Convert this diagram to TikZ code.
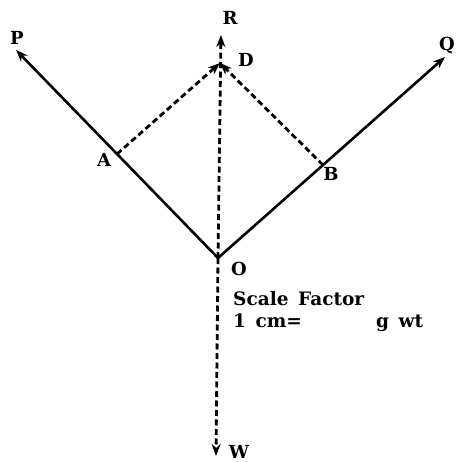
\documentclass[tikz,border=0pt]{standalone}
\usepackage{fontspec}
\setmainfont{DejaVu Serif}
\usetikzlibrary{arrows.meta,calc}
\begin{document}
\begin{tikzpicture}[
  x=1pt, y=-1pt,
  force/.style={line width=2.6pt, -{Stealth[length=12pt,width=9pt]}},
  result/.style={line width=2.8pt, dash pattern=on 6pt off 3.5pt, -{Stealth[length=12pt,width=9pt]}},
  lbl/.style={font=\fontsize{18}{21}\selectfont\bfseries, inner sep=0pt},
  note/.style={font=\fontsize{18.5}{22}\selectfont\bfseries, inner sep=0pt, anchor=base west}
]
\useasboundingbox (0,0) rectangle (462,462);
\coordinate (O) at (218,258);
\coordinate (P) at (16,50);
\coordinate (Q) at (445,57);
\coordinate (R) at (221,35);
\coordinate (W) at (216,456);
\coordinate (A) at ($(O)!0.5!(P)$);
\coordinate (B) at ($(O)!0.4626!(Q)$);
\coordinate (D) at (220,63);
\draw[force] (O) -- (P);
\draw[force] (O) -- (Q);
\draw[result] (O) -- (R);
\draw[result] (O) -- (W);
\draw[result] (A) -- (D);
\draw[result] (B) -- (D);
\node[lbl] (lP) at (17,38) {P};
\node[lbl] (lQ) at (447,45) {Q};
\node[lbl] (lR) at (230,18) {R};
\node[lbl] (lD) at (246,60) {D};
\node[lbl] (lA) at (104,160) {A};
\node[lbl] (lB) at (331,174) {B};
\node[lbl] (lO) at (239,269) {O};
\node[lbl] (lW) at (239,452) {W};
\node[note] (sf) at (233,305) {Scale\, Factor};
\node[note] (cm) at (233,327) {1\, cm=};
\node[note] (gw) at (376,327) {g\, wt};
\end{tikzpicture}
\end{document}
